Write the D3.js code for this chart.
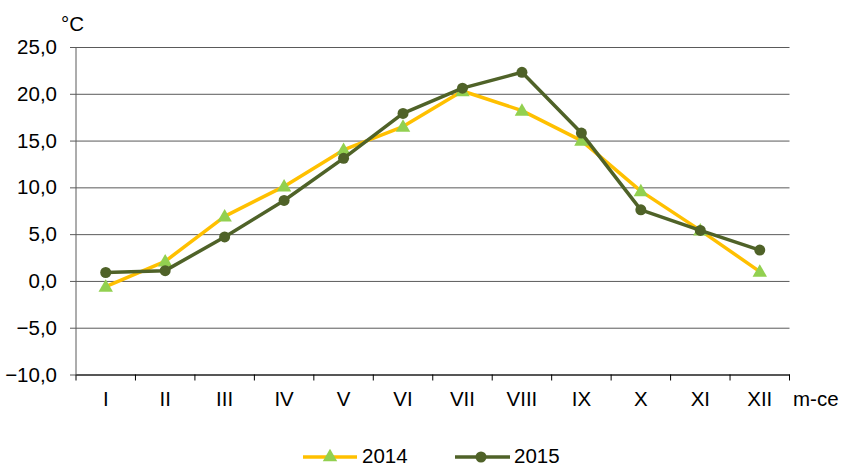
<!DOCTYPE html>
<meta charset="utf-8">
<style>
    body { margin: 0; background: #fff; }
    text { font-family: "Liberation Sans", Arial, sans-serif; fill: #000; }
</style>
<body>
<script src="https://cdn.jsdelivr.net/npm/d3@7"></script>
<script>

    var width = 842,
        height = 466;

    // months and readings (°C)
    var months = ["I", "II", "III", "IV", "V", "VI", "VII", "VIII", "IX", "X", "XI", "XII"];
    var t2014 = [-0.6, 2.1, 6.9, 10.1, 14.0, 16.5, 20.3, 18.2, 15.0, 9.6, 5.4, 1.0];
    var t2015 = [0.9, 1.1, 4.7, 8.6, 13.1, 17.9, 20.6, 22.3, 15.8, 7.6, 5.4, 3.3];
    var yTicks = [-10, -5, 0, 5, 10, 15, 20, 25];

    var mLeft = 76, mRight = 789.5, mTop = 47, mBottom = 374.5;

    var x = d3.scaleBand()
        .domain(months)
        .range([mLeft, mRight]);

    var y = d3.scaleLinear()
        .domain([-10, 25])
        .range([mBottom, mTop]);

    var svg = d3.select("body").append("svg")
        .attr("width", width)
        .attr("height", height);

    // horizontal grid
    svg.append("g")
        .attr("transform", "translate(" + mLeft + ",0)")
        .call(d3.axisLeft(y).tickValues(yTicks).tickSize(-(mRight - mLeft)).tickSizeOuter(0).tickFormat(""))
        .call(function(g) {
            g.select(".domain").remove();
            g.selectAll(".tick line").attr("stroke", "#5a5a5a").attr("x1", -6);
        });

    // y labels
    svg.append("g").selectAll("text")
        .data(yTicks)
        .enter().append("text")
        .attr("x", 57)
        .attr("y", function(d) { return y(d) + 7; })
        .attr("text-anchor", "end")
        .style("font-size", "20.5px")
        .text(function(d) { return d3.format(".1f")(d).replace(".", ","); });

    svg.append("text")
        .attr("x", 61).attr("y", 31)
        .style("font-size", "20.5px")
        .text("°C");

    // y axis line
    svg.append("line")
        .attr("x1", mLeft).attr("x2", mLeft)
        .attr("y1", mTop).attr("y2", mBottom)
        .attr("stroke", "#5a5a5a");

    // x axis
    svg.append("g")
        .attr("transform", "translate(0," + mBottom + ")")
        .call(d3.axisBottom(x).tickSize(0).tickFormat(""))
        .call(function(g) { g.select(".domain").attr("stroke", "#000"); });

    svg.append("g").selectAll("line")
        .data(d3.range(months.length + 1))
        .enter().append("line")
        .attr("x1", function(i) { return mLeft + i * x.step(); })
        .attr("x2", function(i) { return mLeft + i * x.step(); })
        .attr("y1", mBottom).attr("y2", mBottom + 6)
        .attr("stroke", "#000");

    svg.append("g").selectAll("text")
        .data(months)
        .enter().append("text")
        .attr("x", function(d) { return x(d) + x.bandwidth() / 2; })
        .attr("y", 406)
        .attr("text-anchor", "middle")
        .style("font-size", "20.5px")
        .text(function(d) { return d; });

    svg.append("text")
        .attr("x", 793).attr("y", 406)
        .style("font-size", "20.5px")
        .text("m-ce");

    var cx = function(d, i) { return x(months[i]) + x.bandwidth() / 2; };

    var line = d3.line()
        .x(cx)
        .y(function(d) { return y(d); });

    var tri = d3.symbol().type(d3.symbolTriangle).size(90);

    // 2014
    svg.append("path")
        .datum(t2014)
        .attr("d", line)
        .attr("fill", "none")
        .attr("stroke", "#FFC000")
        .attr("stroke-width", 3.5)
        .attr("stroke-linejoin", "round");

    svg.append("g").selectAll("path")
        .data(t2014)
        .enter().append("path")
        .attr("d", tri)
        .attr("transform", function(d, i) { return "translate(" + cx(d, i) + "," + (y(d) + 1) + ")"; })
        .attr("fill", "#92D050");

    // 2015
    svg.append("path")
        .datum(t2015)
        .attr("d", line)
        .attr("fill", "none")
        .attr("stroke", "#4F6228")
        .attr("stroke-width", 3.5)
        .attr("stroke-linejoin", "round");

    svg.append("g").selectAll("circle")
        .data(t2015)
        .enter().append("circle")
        .attr("cx", cx)
        .attr("cy", function(d) { return y(d); })
        .attr("r", 5.5)
        .attr("fill", "#4F6228");

    // legend
    var lg = svg.append("g");
    lg.append("line").attr("x1", 303).attr("x2", 357).attr("y1", 457).attr("y2", 457)
        .attr("stroke", "#FFC000").attr("stroke-width", 3.5);
    lg.append("path").attr("d", tri).attr("transform", "translate(330,457)").attr("fill", "#92D050");
    lg.append("text").attr("x", 362).attr("y", 463).style("font-size", "20.5px").text("2014");

    lg.append("line").attr("x1", 455).attr("x2", 510).attr("y1", 457).attr("y2", 457)
        .attr("stroke", "#4F6228").attr("stroke-width", 3.5);
    lg.append("circle").attr("cx", 481).attr("cy", 457).attr("r", 5.5).attr("fill", "#4F6228");
    lg.append("text").attr("x", 514).attr("y", 463).style("font-size", "20.5px").text("2015");

</script>
